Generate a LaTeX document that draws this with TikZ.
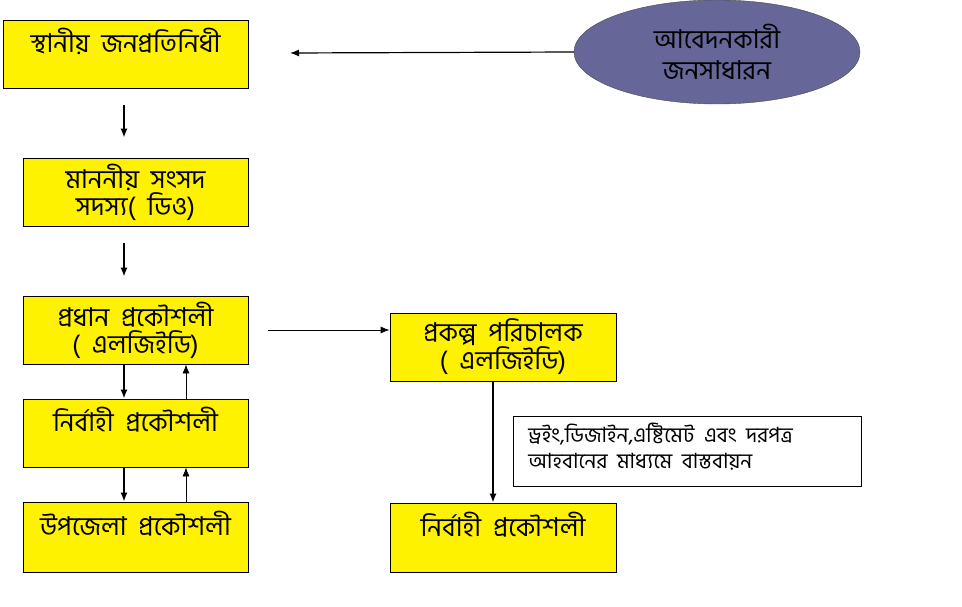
\documentclass[tikz,border=0pt]{standalone}
\usepackage{fontspec}
\newfontfamily\bnfont[Script=Bengali, WordSpace=2]{Hind Siliguri}
\usetikzlibrary{shapes.geometric, arrows.meta}
\definecolor{applicantblue}{RGB}{102,102,153}

\tikzset{
    office/.style={draw=black, thick, fill=yellow, minimum width=225pt, minimum height=68pt,
        inner sep=0pt, align=center, font=\bnfont\fontsize{26}{27}\selectfont},
    downarr/.style={-{Latex[length=9pt, width=7pt]}, line width=1.5pt},
    sidearr/.style={-{Latex[length=9pt, width=7pt]}, line width=0.8pt},
}

\begin{document}
\begin{tikzpicture}[x=1pt, y=-1pt]
            \useasboundingbox (0,0) rectangle (962,607);

            \node[office, minimum width=245pt] (local) at (125.5,54) {স্থানীয় জনপ্রতিনিধী\\ \mbox{}};
            \node[office] (mp) at (135.5,192) {মাননীয় সংসদ\\ সদস্য( ডিও)};
            \node[office] (chief) at (135.5,330) {প্রধান প্রকৌশলী\\ ( এলজিইডি)};
            \node[office] (exec) at (135.5,433) {নির্বাহী প্রকৌশলী\\ \mbox{}};
            \node[office, minimum height=70pt] (upazila) at (135.5,537) {উপজেলা প্রকৌশলী\\ \mbox{}};
            \node[office, minimum width=226pt] (pd) at (503,347) {প্রকল্প পরিচালক\\ ( এলজিইডি)};
            \node[office, minimum width=226pt, minimum height=69pt] (pdexec) at (503,537.5) {নির্বাহী প্রকৌশলী\\ \mbox{}};

            \node[ellipse, draw=black!70, fill=applicantblue, minimum width=286pt, minimum height=104pt,
                inner sep=0pt, align=center, font=\bnfont\fontsize{26}{31}\selectfont] (public) at (717,52) {আবেদনকারী\\ জনসাধারন};

            \node[draw=black, thick, fill=white, anchor=north west, inner xsep=15pt, inner ysep=7pt,
                font=\bnfont\fontsize{21}{26}\selectfont] (note) at (513,416)
                {\parbox[t][56pt][t]{318pt}{ড্রইং,ডিজাইন,এষ্টিমেট এবং দরপত্র\\ আহবানের মাধ্যমে বাস্তবায়ন}};

            \coordinate (reqend) at (290,53);
            \coordinate (fwdstart) at (268,330);

            \draw[downarr, line width=1.2pt] (public.west) -- (reqend);
            \draw[downarr] ([xshift=-1.5pt, yshift=-17pt]local.south) -- ([xshift=-11.5pt, yshift=20pt]mp.north);
            \draw[downarr] ([xshift=-11.5pt, yshift=-17pt]mp.south) -- ([xshift=-11.5pt, yshift=19pt]chief.north);
            \draw[downarr] ([xshift=-11.5pt]chief.south) -- ([xshift=-11.5pt]exec.north);
            \draw[sidearr] ([xshift=50.5pt]exec.north) -- ([xshift=50.5pt]chief.south);
            \draw[downarr] ([xshift=-11.5pt]exec.south) -- ([xshift=-11.5pt]upazila.north);
            \draw[sidearr] ([xshift=50.5pt]upazila.north) -- ([xshift=50.5pt]exec.south);
            \draw[sidearr] (fwdstart) -- (fwdstart -| pd.west);
            \draw[downarr] ([xshift=-10pt]pd.south) -- ([xshift=-10pt]pdexec.north);
\end{tikzpicture}
\end{document}
